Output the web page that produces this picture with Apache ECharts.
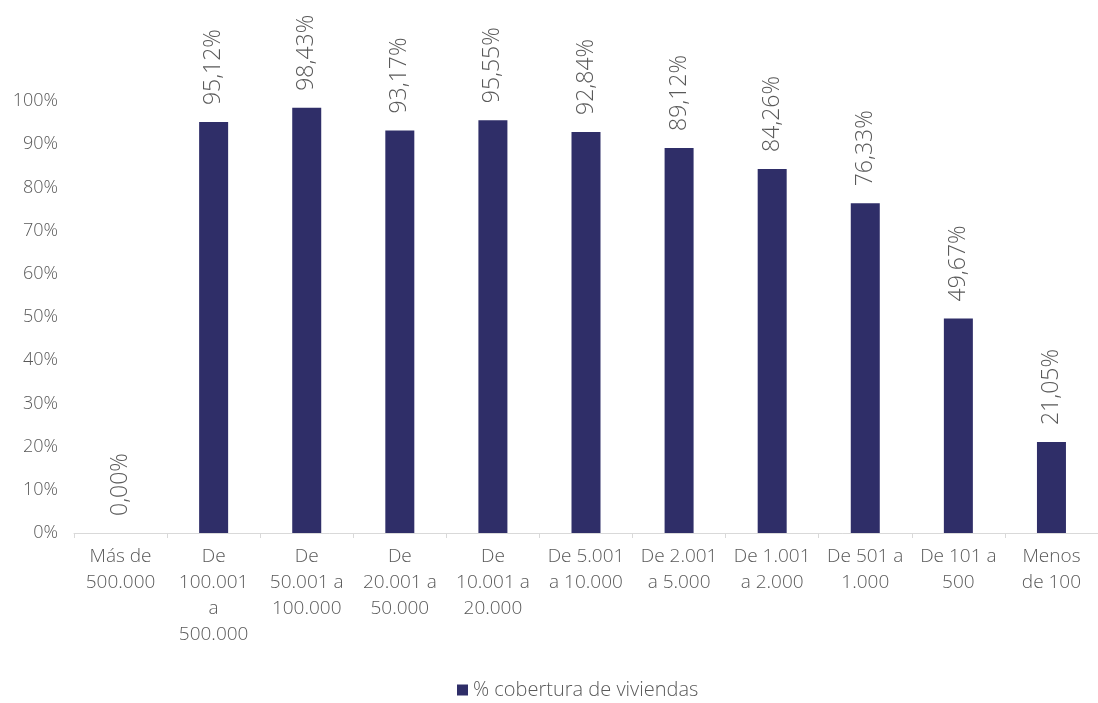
<!DOCTYPE html>
<html>
<head>
<meta charset="utf-8">
<script src="https://cdn.jsdelivr.net/npm/echarts@6/dist/echarts.min.js"></script>
<style>html,body{margin:0;padding:0;background:#fff}#c{width:1098px;height:703px}</style>
</head>
<body>
<div id="c"></div>
<script>
const categories = ["Más de\n500.000","De\n100.001\na\n500.000","De\n50.001 a\n100.000","De\n20.001 a\n50.000","De\n10.001 a\n20.000","De 5.001\na 10.000","De 2.001\na 5.000","De 1.001\na 2.000","De 501 a\n1.000","De 101 a\n500","Menos\nde 100"];
const coverage = [0.00, 95.12, 98.43, 93.17, 95.55, 92.84, 89.12, 84.26, 76.33, 49.67, 21.05];
const yTicks = [0,10,20,30,40,50,60,70,80,90,100];
const seriesName = "% cobertura de viviendas";
const FONT = "'Open Sans', sans-serif";
const chart = echarts.init(document.getElementById('c'));
chart.setOption({
  animation:false,
  textStyle:{fontFamily:FONT},
  grid:{left:74,width:1031,top:101,bottom:170},
  legend:{top:676,left:457,itemWidth:11,itemHeight:11,itemGap:4,icon:'rect',padding:0,
    textStyle:{fontFamily:FONT,fontSize:20,color:'#595959',fontWeight:300,lineHeight:28},data:[seriesName]},
  xAxis:{type:'category',data:categories,
    axisLine:{lineStyle:{color:'#d9d9d9',width:1}},
    axisTick:{show:true,length:5,lineStyle:{color:'#d9d9d9'}},
    axisLabel:{interval:0,fontFamily:FONT,fontSize:19,color:'#595959',lineHeight:26,margin:11,fontWeight:300}},
  yAxis:{type:'value',min:0,max:100,interval:10,
    splitLine:{show:false},axisLine:{show:false},axisTick:{show:false},
    axisLabel:{fontFamily:FONT,fontSize:18,color:'#595959',margin:16,fontWeight:300,
      formatter:v=>yTicks.includes(v)?v+'%':''}},
  series:[{name:seriesName,type:'bar',data:coverage,barWidth:29,
    itemStyle:{color:'#2f2e68'},
    label:{show:true,position:'top',rotate:90,distance:17,align:'left',verticalAlign:'middle',
      fontFamily:FONT,fontSize:23,color:'#595959',fontWeight:300,
      formatter:p=>p.value.toFixed(2).replace('.',',')+'%'}}]
});
</script>
</body>
</html>
